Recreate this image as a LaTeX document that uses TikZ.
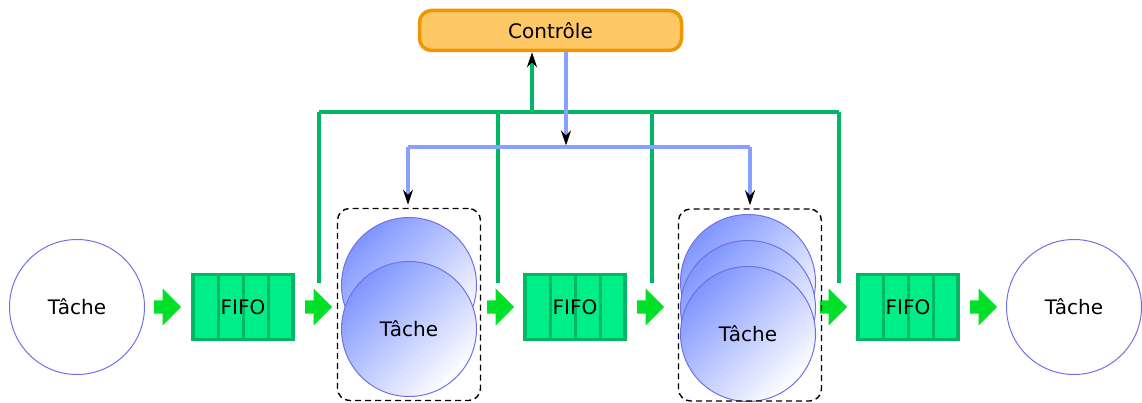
\documentclass[tikz,border=0pt]{standalone}
\usepackage{fontspec}
\setmainfont{DejaVu Sans}
\usetikzlibrary{arrows.meta, shapes.arrows, calc}
\definecolor{busgreen}{RGB}{0,184,100}
\definecolor{fifogreen}{RGB}{0,238,136}
\definecolor{arrowgreen}{RGB}{0,224,40}
\definecolor{ordreblue}{RGB}{136,160,255}
\definecolor{circline}{RGB}{112,112,230}
\definecolor{gradblue}{RGB}{128,150,255}
\definecolor{ctrlfill}{RGB}{255,200,102}
\definecolor{ctrldraw}{RGB}{240,150,0}

\begin{document}
\begin{tikzpicture}[x=1pt, y=-1pt, font=\fontsize{20}{24}\selectfont,
    tache/.style={circle, draw=circline, line width=1pt, minimum size=135pt, inner sep=0pt},
    groupe/.style={tache, top color=gradblue, bottom color=white, shading angle=45},
    fifo/.style={draw=busgreen, fill=fifogreen, line width=3.5pt, minimum width=100pt,
      minimum height=65pt, inner sep=0pt,
      path picture={\foreach \k in {1,2,3}
        \draw[busgreen, line width=3pt]
          ($(path picture bounding box.north west)!\k/4!(path picture bounding box.north east)$) --
          ($(path picture bounding box.south west)!\k/4!(path picture bounding box.south east)$);}},
    fleche/.style={single arrow, fill=arrowgreen, inner sep=6.5pt, minimum height=27pt,
      single arrow head extend=12pt, anchor=tail},
    cadre/.style={draw, dash pattern=on 6pt off 4pt, line width=1.4pt, rounded corners=12pt,
      minimum width=143pt, minimum height=192pt, inner sep=0pt},
    bus/.style={busgreen, line width=3.5pt},
    ordre/.style={ordreblue, line width=3.5pt},
    pointe/.style={-{Stealth[length=15pt, width=10pt, inset=5pt, black]}}]
  \useasboundingbox (0,0) rectangle (1142,403);

  % control unit
  \node[draw=ctrldraw, fill=ctrlfill, line width=3.5pt, rounded corners=12pt,
        minimum width=262pt, minimum height=40pt] (ctrl) at (550.5,30.5) {Contrôle};

  % pipeline
  \node[tache] (t1) at (77,307) {Tâche};
  \node[fleche] (f1) at (154,307) {};
  \node[fifo] (q1) at (243,307) {FIFO};
  \node[fleche] (f2) at (305,307) {};
  \node[groupe] (g1a) at (409,285) {};
  \node[groupe] (g1b) at (409,329) {Tâche};
  \node[fleche] (f3) at (487,307) {};
  \node[fifo] (q2) at (575,307) {FIFO};
  \node[fleche] (f4) at (637,307) {};
  \node[groupe] (g2a) at (748,282) {};
  \node[groupe] (g2b) at (748,308) {};
  \node[groupe] (g2c) at (748,334) {Tâche};
  \node[fleche] (f5) at (820,307) {};
  \node[fifo] (q3) at (908,307) {FIFO};
  \node[fleche] (f6) at (970,307) {};
  \node[tache] (t2) at (1074,307) {Tâche};

  \node[cadre] (c1) at (409,304.5) {};
  \node[cadre] (c2) at (750,305) {};

  % status bus (green)
  \coordinate (b1) at (319,112);
  \coordinate (b2) at (498,112);
  \coordinate (b3) at (652,112);
  \coordinate (b4) at (839,112);
  \coordinate (up) at (532,112);
  \draw[bus] (b1) -- (b4);
  \foreach \b in {b1,b2,b3,b4}
    \draw[bus] (\b) -- ($(\b |- f1.center)+(0,-24)$);
  \draw[bus, pointe] (up) -- (up |- ctrl.south);

  % command bus (blue)
  \coordinate (dn) at (566,147);
  \coordinate (d1) at (408,147);
  \coordinate (d2) at (750,147);
  \draw[ordre] (d1) -- (d2);
  \draw[ordre, pointe] (dn |- ctrl.south) -- ($(dn)+(0,-1.5)$);
  \draw[ordre, pointe] (d1) -- ($(d1 |- c1.north)+(0,-3)$);
  \draw[ordre, pointe] (d2) -- ($(d2 |- c2.north)+(0,-3)$);
\end{tikzpicture}
\end{document}
